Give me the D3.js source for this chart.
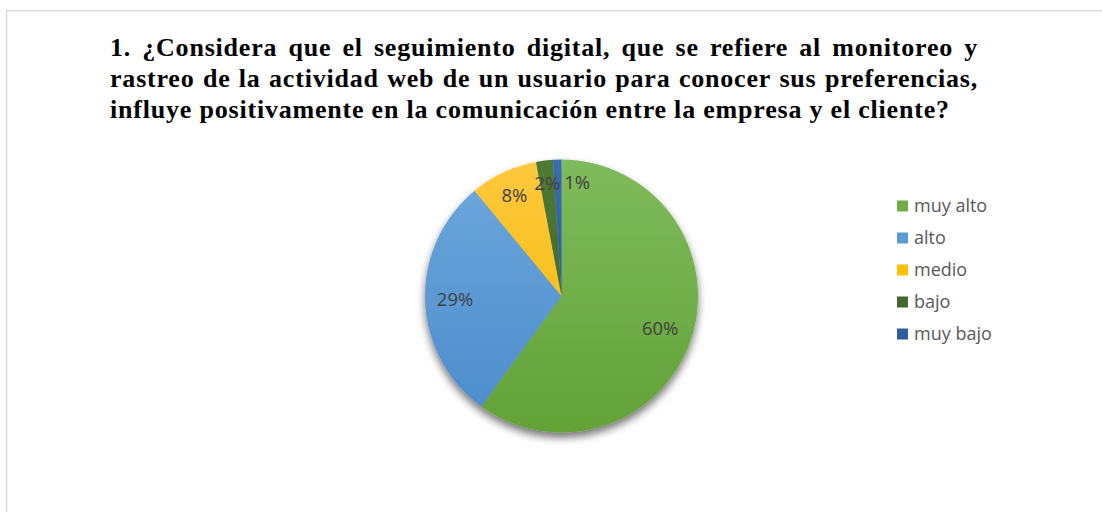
<!DOCTYPE html>
<html>
<head>
<meta charset="utf-8">
<script src="https://cdn.jsdelivr.net/npm/d3@7"></script>
<style>
  html, body { margin: 0; padding: 0; background: #ffffff; }
  svg { display: block; }
</style>
</head>
<body>
<svg id="chart" width="1102" height="512"></svg>
<script>
// ---- data ----
const categories = ["muy alto", "alto", "medio", "bajo", "muy bajo"];
const values = [60, 29, 8, 2, 1];
const labels = ["60%", "29%", "8%", "2%", "1%"];
const titleLines = [
  "1. ¿Considera que el seguimiento digital, que se refiere al monitoreo y",
  "rastreo de la actividad web de un usuario para conocer sus preferencias,",
  "influye positivamente en la comunicación entre la empresa y el cliente?"
];
const colors = ["#70AD47", "#5B9BD5", "#FFC000", "#43682B", "#2E5E9E"];
const lightColors = ["#7fbb5c", "#6ea8dd", "#ffc83d", "#4f7a33", "#3a6cb0"];
const darkColors = ["#62a237", "#4a8bcb", "#f2b800", "#3a5d24", "#245290"];

const svg = d3.select("#chart");
const W = 1102, H = 512;

// frame
svg.append("path")
  .attr("d", `M6.5,${H} L6.5,10.5 L${W},10.5`)
  .attr("fill", "none").attr("stroke", "#d9d9d9").attr("stroke-width", 1.5);

// defs
const defs = svg.append("defs");
const f = defs.append("filter").attr("id", "shadow")
  .attr("x", "-20%").attr("y", "-20%").attr("width", "140%").attr("height", "150%");
f.append("feGaussianBlur").attr("in", "SourceAlpha").attr("stdDeviation", 4).attr("result", "b");
f.append("feOffset").attr("in", "b").attr("dx", 0).attr("dy", 5).attr("result", "o");
f.append("feComponentTransfer").attr("in", "o").attr("result", "o2")
  .append("feFuncA").attr("type", "linear").attr("slope", 0.55);
const m = f.append("feMerge");
m.append("feMergeNode").attr("in", "o2");
m.append("feMergeNode").attr("in", "SourceGraphic");

const cx = 561.5, cy = 296, R = 136.5;
categories.forEach((c, i) => {
  const g = defs.append("linearGradient").attr("id", "grad" + i)
    .attr("gradientUnits", "userSpaceOnUse")
    .attr("x1", 0).attr("y1", -R).attr("x2", 0).attr("y2", R);
  g.append("stop").attr("offset", "0%").attr("stop-color", lightColors[i]);
  g.append("stop").attr("offset", "100%").attr("stop-color", darkColors[i]);
});

// title (justified first lines)
const tg = svg.append("g")
  .attr("font-family", "'Liberation Serif', 'Times New Roman', serif")
  .attr("font-weight", "bold").attr("font-size", 26).attr("fill", "#000");
const tx0 = 110, tx1 = 978, lastEnd = 949;
const baselines = [56, 87, 118];
// letter spacing chosen so the last (unjustified) line spans the same width as in the original
const probe = tg.append("text").text(titleLines[2]);
const pw = probe.node().getComputedTextLength();
probe.remove();
const ls = (lastEnd - tx0 - pw) / (titleLines[2].length - 1);
tg.attr("letter-spacing", ls);
titleLines.forEach((line, li) => {
  const words = line.split(" ");
  if (li < titleLines.length - 1) {
    const nodes = words.map(w => tg.append("text").attr("y", baselines[li]).text(w));
    const widths = nodes.map(n => n.node().getComputedTextLength());
    const total = d3.sum(widths);
    const gap = (tx1 - tx0 - total) / (words.length - 1);
    let x = tx0;
    nodes.forEach((n, k) => { n.attr("x", x); x += widths[k] + gap; });
  } else {
    tg.append("text").attr("x", tx0).attr("y", baselines[li]).text(line);
  }
});

// pie
const pie = d3.pie().value(d => d).sort(null);
const arcs = pie(values);
const arc = d3.arc().innerRadius(0).outerRadius(R);
const slices = svg.append("g").attr("filter", "url(#shadow)");
slices.selectAll("path").data(arcs).enter().append("path")
  .attr("d", arc)
  .attr("fill", (d, i) => `url(#grad${i})`)
  .attr("transform", `translate(${cx},${cy})`);

// labels
const labelR = [0.76, 0.78, 0.81, 0.83, 0.83];
const lg = svg.append("g")
  .attr("font-family", "'Open Sans', 'Liberation Sans', sans-serif")
  .attr("font-size", 18.5).attr("fill", "#404040");
const labelNodes = [];
arcs.forEach((d, i) => {
  const a = (d.startAngle + d.endAngle) / 2;
  const r = R * labelR[i];
  let x = cx + Math.sin(a) * r;
  const y = cy - Math.cos(a) * r;
  const t = lg.append("text").attr("text-anchor", "middle").attr("dy", "0.35em")
    .attr("x", x).attr("y", y).text(labels[i]);
  // simple collision avoidance: push a label right if it overlaps the previous one
  if (i > 0) {
    const w = t.node().getComputedTextLength();
    const pb = labelNodes[i - 1].getBBox();
    const tb = t.node().getBBox();
    const overlapY = tb.y < pb.y + pb.height && tb.y + tb.height > pb.y;
    if (overlapY && x - w / 2 < pb.x + pb.width + 4) {
      x = pb.x + pb.width + 4 + w / 2;
      t.attr("x", x);
    }
  }
  labelNodes.push(t.node());
});

// legend
const leg = svg.append("g")
  .attr("font-family", "'Open Sans', 'Liberation Sans', sans-serif")
  .attr("font-size", 18).attr("fill", "#595959");
categories.forEach((c, i) => {
  const y = 206 + i * 32;
  leg.append("rect").attr("x", 897).attr("y", y - 5.5).attr("width", 11).attr("height", 11)
    .attr("fill", colors[i]);
  leg.append("text").attr("x", 914).attr("y", y).attr("dy", "0.35em").text(c);
});
</script>
</body>
</html>
